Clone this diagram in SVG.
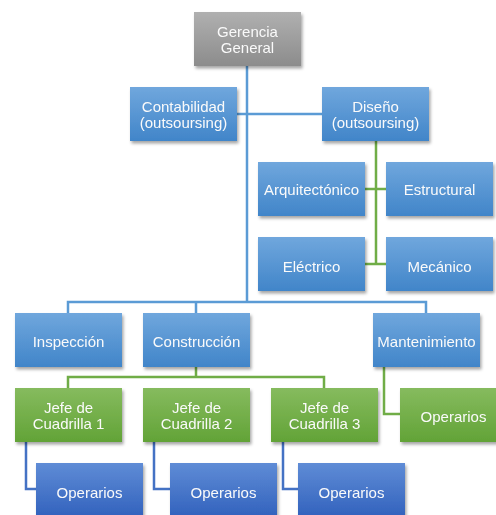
<svg xmlns="http://www.w3.org/2000/svg" width="496" height="515" viewBox="0 0 496 515">
<defs>
<linearGradient id="gGray" x1="0" y1="0" x2="0" y2="1"><stop offset="0" stop-color="#b0b0b0"/><stop offset="1" stop-color="#8c8c8c"/></linearGradient>
<linearGradient id="gBlue" x1="0" y1="0" x2="0" y2="1"><stop offset="0" stop-color="#70a7dd"/><stop offset="1" stop-color="#4185c9"/></linearGradient>
<linearGradient id="gGreen" x1="0" y1="0" x2="0" y2="1"><stop offset="0" stop-color="#86bb5e"/><stop offset="1" stop-color="#62a337"/></linearGradient>
<linearGradient id="gDark" x1="0" y1="0" x2="0" y2="1"><stop offset="0" stop-color="#5f8cd6"/><stop offset="1" stop-color="#3262bd"/></linearGradient>
<filter id="sh" x="-10%" y="-10%" width="125%" height="130%"><feDropShadow dx="1.5" dy="2.5" stdDeviation="1.8" flood-color="#000" flood-opacity="0.35"/></filter>
</defs>
<style>
.b{filter:url(#sh)}
.gray{fill:url(#gGray)}
.blue{fill:url(#gBlue)}
.green{fill:url(#gGreen)}
.dark{fill:url(#gDark)}
text{font-family:"Liberation Sans","Noto Sans",sans-serif;font-size:15px;fill:#fafafa;text-anchor:middle;dominant-baseline:central}
.cb{stroke:#5b9bd5;stroke-width:2.5;fill:none}
.cg{stroke:#70ad47;stroke-width:2.5;fill:none}
.cd{stroke:#4472c4;stroke-width:2.5;fill:none}
</style>
<g id="connectors">
<path class="cb" d="M247,66 V302 M237,114 H322 M68,313 V302 H426 V313 M196,302 V313"/>
<path class="cg" d="M376,141 V264 M365,189 H386 M365,264 H386"/>
<path class="cg" d="M196,367 V377 M68,388 V377 H324 V388 M384,367 V414 H400"/>
<path class="cd" d="M26,442 V489 H36 M154,442 V489 H170 M283,442 V489 H298"/>
</g>
<g id="gerencia" class="b"><rect class="gray" x="194" y="12" width="107" height="54"/><text x="247.5" y="31">Gerencia</text><text x="247.5" y="47">General</text></g>
<g id="contabilidad" class="b"><rect class="blue" x="130" y="87" width="107" height="54"/><text x="183.5" y="106">Contabilidad</text><text x="183.5" y="122">(outsoursing)</text></g>
<g id="diseno" class="b"><rect class="blue" x="322" y="87" width="107" height="54"/><text x="375.5" y="106">Diseño</text><text x="375.5" y="122">(outsoursing)</text></g>
<g id="arquitectonico" class="b"><rect class="blue" x="258" y="162" width="107" height="54"/><text x="311.5" y="189">Arquitectónico</text></g>
<g id="estructural" class="b"><rect class="blue" x="386" y="162" width="107" height="54"/><text x="439.5" y="189">Estructural</text></g>
<g id="electrico" class="b"><rect class="blue" x="258" y="237" width="107" height="54"/><text x="311.5" y="266">Eléctrico</text></g>
<g id="mecanico" class="b"><rect class="blue" x="386" y="237" width="107" height="54"/><text x="439.5" y="266">Mecánico</text></g>
<g id="inspeccion" class="b"><rect class="blue" x="15" y="313" width="107" height="54"/><text x="68.5" y="341">Inspección</text></g>
<g id="construccion" class="b"><rect class="blue" x="143" y="313" width="107" height="54"/><text x="196.5" y="341">Construcción</text></g>
<g id="mantenimiento" class="b"><rect class="blue" x="373" y="313" width="107" height="54"/><text x="426.5" y="341">Mantenimiento</text></g>
<g id="jefe1" class="b"><rect class="green" x="15" y="388" width="107" height="54"/><text x="68.5" y="407">Jefe de</text><text x="68.5" y="423">Cuadrilla 1</text></g>
<g id="jefe2" class="b"><rect class="green" x="143" y="388" width="107" height="54"/><text x="196.5" y="407">Jefe de</text><text x="196.5" y="423">Cuadrilla 2</text></g>
<g id="jefe3" class="b"><rect class="green" x="271" y="388" width="107" height="54"/><text x="324.5" y="407">Jefe de</text><text x="324.5" y="423">Cuadrilla 3</text></g>
<g id="operarios-m" class="b"><rect class="green" x="400" y="388" width="107" height="54"/><text x="453.5" y="416">Operarios</text></g>
<g id="operarios1" class="b"><rect class="dark" x="36" y="463" width="107" height="54"/><text x="89.5" y="492">Operarios</text></g>
<g id="operarios2" class="b"><rect class="dark" x="170" y="463" width="107" height="54"/><text x="223.5" y="492">Operarios</text></g>
<g id="operarios3" class="b"><rect class="dark" x="298" y="463" width="107" height="54"/><text x="351.5" y="492">Operarios</text></g>
</svg>
